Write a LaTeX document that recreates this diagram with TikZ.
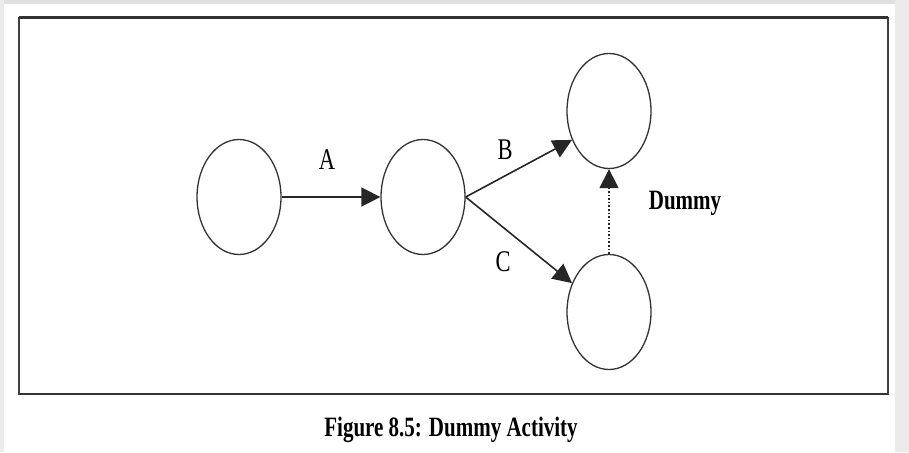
\documentclass[tikz,border=0pt]{standalone}
\usepackage{fontspec}
\setmainfont{Liberation Serif}
\usetikzlibrary{arrows.meta,shapes.geometric}
\begin{document}
\begin{tikzpicture}[x=1pt,y=-1pt,
  event/.style={draw=black!80,line width=1.3pt,ellipse,minimum width=84pt,minimum height=115pt,inner sep=0pt},
  act/.style={draw=black!85,line width=1.6pt,-{Triangle[length=19pt,width=19pt]}},
  lbl/.style={font=\fontsize{30}{32}\selectfont,xscale=0.75,inner sep=0pt}]
\useasboundingbox (0,0) rectangle (909,452);
\fill[black!12] (0,0) rectangle (909,4);
\fill[black!8] (0,0) rectangle (4,452);
\fill[black!8] (895,0) rectangle (909,452);
\draw[black!75,line width=1.4pt] (19,18) rectangle (888,394);
\draw[black!80,line width=3pt] (19,18) -- (888,18);
\draw[black!80,line width=2.2pt] (19,394) -- (888,394);
\node[event] (e1) at (239,197) {};
\node[event] (e2) at (423,197) {};
\node[event] (e3) at (609,111) {};
\node[event] (e4) at (609,312) {};
\draw[act] (e1) -- (e2);
\draw[act] (e2.east) -- (e3.218);
\draw[act] (e2.east) -- (e4.142);
\draw[act,dotted,line width=1.3pt] (e4) -- (e3);
\node[lbl] (la) at (327,160) {A};
\node[lbl] (lb) at (505,150) {B};
\node[lbl] (lc) at (503,262) {C};
\node[lbl,font=\fontsize{28}{30}\selectfont\bfseries] (ld) at (685,203) {Dummy};
\node[lbl,font=\fontsize{28}{30}\selectfont\bfseries] (cap) at (451,430) {Figure 8.5: Dummy Activity};
\end{tikzpicture}
\end{document}
